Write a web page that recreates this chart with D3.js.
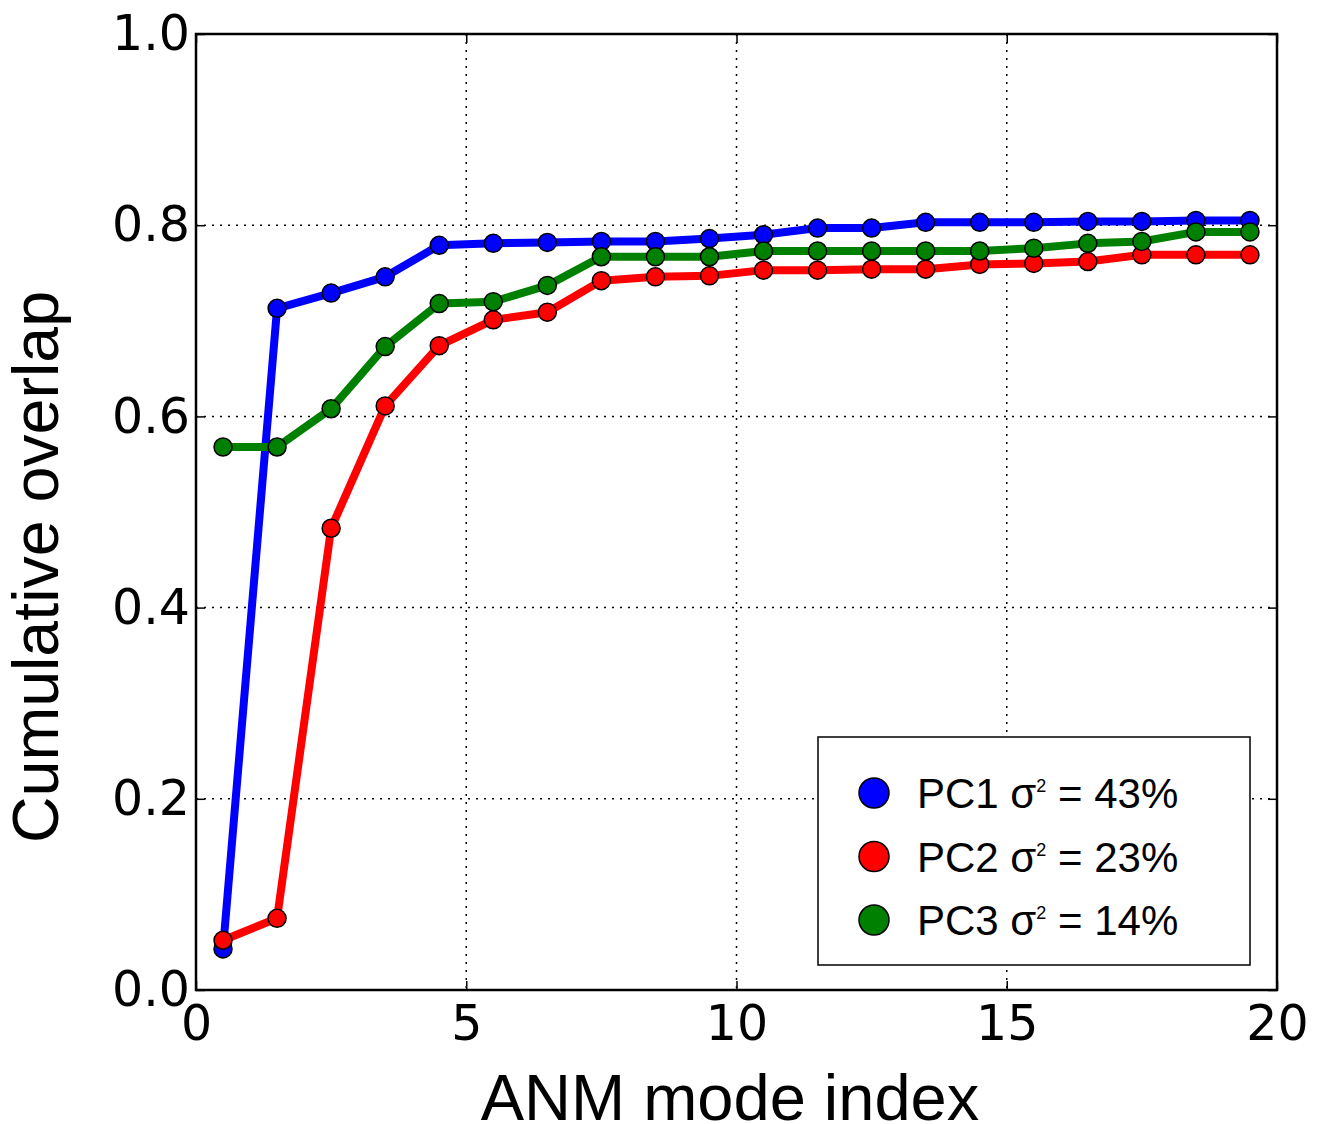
<!doctype html>
<html>
<head>
<style>
  body { margin: 0; background: #fff; }
  text { font-family: "DejaVu Sans", sans-serif; fill: #000; }
  .label, .legend text { font-family: "Liberation Sans", Arial, sans-serif; }
</style>
<script src="https://d3js.org/d3.v7.min.js"></script>
</head>
<body>
<svg width="1319" height="1124"></svg>
<script>
// mode index (bin centres)
var modes = d3.range(20).map(function(i) { return i + 0.5; });

var pc1 = [0.043, 0.713, 0.729, 0.746, 0.779, 0.781, 0.782, 0.783, 0.783, 0.786,
           0.790, 0.797, 0.797, 0.803, 0.803, 0.803, 0.804, 0.804, 0.805, 0.805];
var pc2 = [0.052, 0.075, 0.483, 0.611, 0.674, 0.701, 0.709, 0.742, 0.746, 0.747,
           0.753, 0.753, 0.754, 0.754, 0.759, 0.760, 0.762, 0.769, 0.769, 0.769];
var pc3 = [0.568, 0.568, 0.608, 0.673, 0.718, 0.720, 0.737, 0.767, 0.767, 0.767,
           0.773, 0.773, 0.773, 0.773, 0.773, 0.776, 0.781, 0.783, 0.793, 0.793];

var seriesNames = ["PC1", "PC2", "PC3"];
var variances = ["43%", "23%", "14%"];
var colors = ["#0000ff", "#ff0000", "#008000"];
var xTicks = [0, 5, 10, 15, 20];
var yTicks = [0.0, 0.2, 0.4, 0.6, 0.8, 1.0];

var svg = d3.select("svg");
var pLeft = 196, pRight = 1277, pTop = 34, pBottom = 990;

var x = d3.scaleLinear().domain([0, 20]).range([pLeft, pRight]);
var y = d3.scaleLinear().domain([0, 1]).range([pBottom, pTop]);

// grid
var grid = svg.append("g").attr("stroke", "#000").attr("stroke-width", 1.5)
    .attr("stroke-dasharray", "2,6");
grid.selectAll(".gx").data(xTicks.slice(1, -1)).enter().append("line")
    .attr("x1", function(d) { return x(d); }).attr("x2", function(d) { return x(d); })
    .attr("y1", pTop).attr("y2", pBottom);
grid.selectAll(".gy").data(yTicks.slice(1, -1)).enter().append("line")
    .attr("y1", function(d) { return y(d); }).attr("y2", function(d) { return y(d); })
    .attr("x1", pLeft).attr("x2", pRight);

// axes (ticks inward, on all sides)
var ax = d3.axisBottom(x).tickValues(xTicks).tickFormat(d3.format("d")).tickSizeInner(-9).tickSizeOuter(0).tickPadding(15);
var ay = d3.axisLeft(y).tickValues(yTicks).tickFormat(d3.format(".1f")).tickSizeInner(-9).tickSizeOuter(0).tickPadding(6);
var axT = d3.axisTop(x).tickValues(xTicks).tickFormat("").tickSizeInner(-9).tickSizeOuter(0);
var ayR = d3.axisRight(y).tickValues(yTicks).tickFormat("").tickSizeInner(-9).tickSizeOuter(0);

[svg.append("g").attr("transform", "translate(0," + pBottom + ")").call(ax),
 svg.append("g").attr("transform", "translate(" + pLeft + ",0)").call(ay),
 svg.append("g").attr("transform", "translate(0," + pTop + ")").call(axT),
 svg.append("g").attr("transform", "translate(" + pRight + ",0)").call(ayR)]
  .forEach(function(g) {
    g.select(".domain").remove();
    g.selectAll(".tick line").attr("stroke", "#000").attr("stroke-width", 1.5);
    g.selectAll(".tick text").style("font-size", "49px").style("font-family", "DejaVu Sans").attr("fill", "#000");
  });

svg.append("rect").attr("x", pLeft).attr("y", pTop)
   .attr("width", pRight - pLeft).attr("height", pBottom - pTop)
   .attr("fill", "none").attr("stroke", "#000").attr("stroke-width", 2.5);

// series
var data = [pc1, pc2, pc3];
var line = d3.line().x(function(d, i) { return x(modes[i]); }).y(function(d) { return y(d); });

data.forEach(function(vals, k) {
  svg.append("path").datum(vals).attr("d", line)
     .attr("fill", "none").attr("stroke", colors[k]).attr("stroke-width", 8)
     .attr("stroke-linejoin", "round");
});
data.forEach(function(vals, k) {
  svg.append("g").selectAll("circle").data(vals).enter().append("circle")
     .attr("cx", function(d, i) { return x(modes[i]); })
     .attr("cy", function(d) { return y(d); })
     .attr("r", 9).attr("fill", colors[k]).attr("stroke", "#000").attr("stroke-width", 1.5);
});

// axis labels
svg.append("text").attr("class", "label").attr("x", 730).attr("y", 1120)
   .attr("text-anchor", "middle").style("font-size", "65px").text("ANM mode index");
svg.append("text").attr("class", "label").attr("transform", "translate(58,567) rotate(-90)")
   .attr("text-anchor", "middle").style("font-size", "64.5px").text("Cumulative overlap");

// legend
var lg = svg.append("g").attr("class", "legend");
lg.append("rect").attr("x", 818).attr("y", 737).attr("width", 432).attr("height", 228)
  .attr("fill", "#fff").attr("stroke", "#000").attr("stroke-width", 1.5);
seriesNames.forEach(function(n, k) {
  var cy = 793 + k * 63.5;
  lg.append("circle").attr("cx", 874).attr("cy", cy).attr("r", 15)
    .attr("fill", colors[k]).attr("stroke", "#000").attr("stroke-width", 1.5);
  var t = lg.append("text").attr("x", 917).attr("y", cy + 15).style("font-size", "42px");
  t.append("tspan").text(n + " σ");
  t.append("tspan").attr("dy", -16).style("font-size", "18px").text("2");
  t.append("tspan").attr("dy", 16).text(" = " + variances[k]);
});
</script>
</body>
</html>
